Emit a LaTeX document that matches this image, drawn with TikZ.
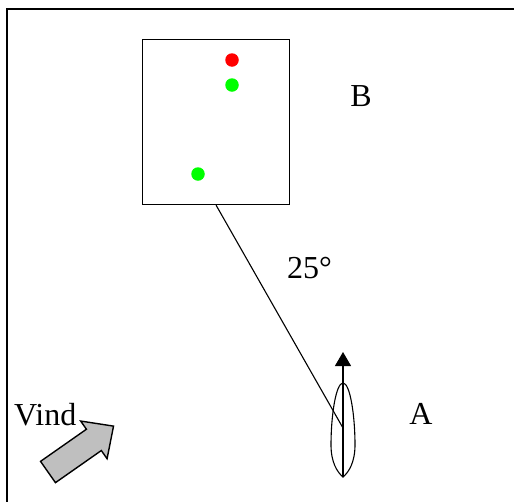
\documentclass[tikz,border=0pt]{standalone}
\usepackage{fontspec}
\setmainfont{Liberation Serif}
\usetikzlibrary{arrows.meta}
\begin{document}
\begin{tikzpicture}[x=1pt,y=-1pt,
  lbl/.style={font=\fontsize{32}{36}\selectfont, inner sep=0},
  dot/.style={circle, inner sep=0, minimum size=13.5pt},
  thin line/.style={line width=1.1pt}]
\useasboundingbox (0,0) rectangle (514,501);
\clip (0,0) rectangle (514,501);
% outer frame
\draw[line width=1.8pt] (7,9) rectangle (540,530);
% box with dots
\node[draw, line width=1.1pt, minimum width=147pt, minimum height=165pt, anchor=north west, inner sep=0] (box) at (142,39) {};
\node[dot, fill=red] (r1) at (232,60) {};
\node[dot, fill=green] (g1) at (232,85) {};
\node[dot, fill=green] (g2) at (198,174) {};
% labels
\node[lbl, anchor=base] (B) at (361,106) {B};
\node[lbl, anchor=base] (A) at (421,424) {A};
\node[lbl, anchor=base west] (ang) at (287,278) {25°};
\node[lbl, anchor=base west] (vind) at (14,425) {Vind};
% boat
\coordinate (bow) at (343,383);
\coordinate (stern) at (343,477);
\coordinate (mast) at (343,428);
\coordinate (head) at (343,352);
\draw[thin line] (bow) .. controls (350,383) and (355,415) .. (355,445)
  .. controls (355,462) and (349,472) .. (stern)
  .. controls (337,472) and (331,462) .. (331,445)
  .. controls (331,415) and (336,383) .. (bow) -- cycle;
\draw[thin line, -{Triangle[width=16pt,length=14pt]}] (stern) -- (head);
% course line
\draw[thin line] (box.south) -- (mast);
% wind arrow
\begin{scope}[shift={(48,472)}, rotate=35]
\draw[line width=1.4pt, fill=gray!50, line join=miter]
  (0,13) -- (56,13) -- (56,23) -- (80,0) -- (56,-23) -- (56,-13) -- (0,-13) -- cycle;
\end{scope}
\end{tikzpicture}
\end{document}
